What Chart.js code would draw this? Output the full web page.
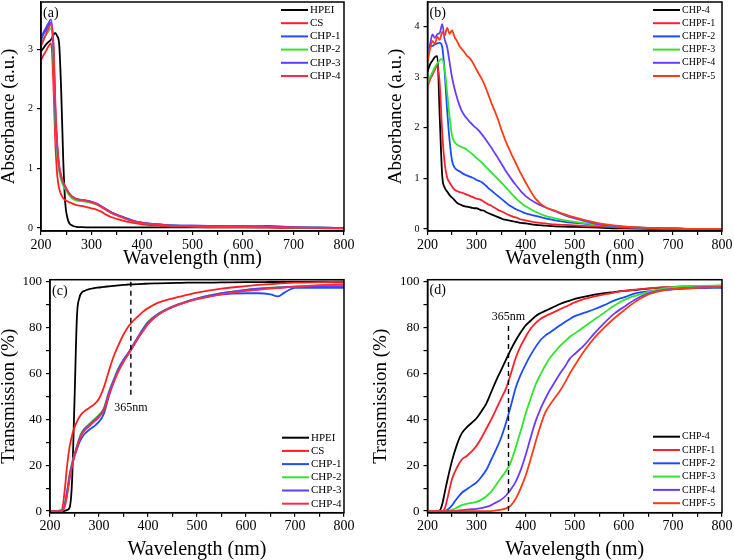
<!DOCTYPE html>
<html>
<head>
<meta charset="utf-8">
<title>UV-vis absorbance and transmission</title>
<script src="https://cdn.jsdelivr.net/npm/chart.js@4.4.1/dist/chart.umd.min.js"></script>
<style>
  body { margin: 0; background: #fff; }
  #wrap { position: relative; width: 734px; height: 560px; }
  canvas { position: absolute; }
</style>
</head>
<body>
<div id="wrap">
  <canvas id="chartA" width="367" height="275" style="left:0;top:0"></canvas>
  <canvas id="chartB" width="367" height="275" style="left:367px;top:0"></canvas>
  <canvas id="chartC" width="367" height="285" style="left:0;top:275px"></canvas>
  <canvas id="chartD" width="367" height="285" style="left:367px;top:275px"></canvas>
</div>
<script>
//-------------------------------------------------------------------
// data
//-------------------------------------------------------------------
const wavelengthTicks = [200, 250, 300, 350, 400, 450, 500, 550, 600, 650, 700, 750, 800];
const absTicksA = [0, 1, 2, 3];
const absTicksB = [0, 1, 2, 3, 4];
const transTicks = [0, 10, 20, 30, 40, 50, 60, 70, 80, 90, 100];

// (a) absorbance, films
const labelsA = ['HPEI', 'CS', 'CHP-1', 'CHP-2', 'CHP-3', 'CHP-4'];
const wlA = [200, 205, 210, 215, 220, 225, 228, 232, 236, 240, 244, 248, 252, 256, 260, 265, 270, 280, 290, 300,
             310, 320, 330, 340, 360, 380, 400, 450, 500, 550, 600, 650, 700, 750, 800];
const absHPEI = [2.96, 3.02, 3.08, 3.12, 3.16, 3.24, 3.27, 3.22, 3.08, 2.3, 1.15, 0.42, 0.18, 0.08, 0.05, 0.03, 0.02, 0.015, 0.012, 0.01,
                 0.01, 0.01, 0.01, 0.01, 0.01, 0.01, 0.01, 0.01, 0.01, 0.01, 0.01, 0.01, 0.005, 0.005, 0];
const absCS   = [2.82, 2.9, 2.97, 3.05, 3.1, 2.3, 1.5, 0.9, 0.66, 0.56, 0.5, 0.47, 0.45, 0.43, 0.42, 0.4, 0.385, 0.37, 0.35, 0.33,
                 0.31, 0.27, 0.22, 0.18, 0.13, 0.09, 0.06, 0.03, 0.02, 0.01, 0.01, 0.005, 0, 0, 0];
const absCHP1 = [3.15, 3.25, 3.32, 3.4, 3.45, 2.9, 2.0, 1.35, 1.0, 0.85, 0.75, 0.68, 0.62, 0.57, 0.53, 0.5, 0.48, 0.47, 0.46, 0.44,
                 0.41, 0.36, 0.31, 0.26, 0.19, 0.13, 0.09, 0.05, 0.04, 0.035, 0.03, 0.035, 0.015, 0.005, 0];
const absCHP2 = [3.1, 3.18, 3.24, 3.3, 3.35, 2.75, 1.85, 1.26, 0.95, 0.8, 0.71, 0.65, 0.6, 0.55, 0.51, 0.48, 0.46, 0.45, 0.44, 0.42,
                 0.39, 0.35, 0.3, 0.25, 0.18, 0.12, 0.085, 0.05, 0.035, 0.03, 0.025, 0.02, 0.01, 0.005, 0];
const absCHP3 = [3.18, 3.28, 3.36, 3.44, 3.5, 2.95, 2.05, 1.38, 1.02, 0.86, 0.76, 0.69, 0.63, 0.58, 0.54, 0.51, 0.49, 0.47, 0.46, 0.44,
                 0.41, 0.36, 0.31, 0.26, 0.19, 0.13, 0.09, 0.05, 0.04, 0.035, 0.03, 0.025, 0.015, 0.005, 0];
const absCHP4 = [3.05, 3.15, 3.25, 3.35, 3.42, 3.05, 2.2, 1.45, 1.05, 0.88, 0.77, 0.7, 0.63, 0.58, 0.54, 0.51, 0.49, 0.47, 0.455, 0.43,
                 0.4, 0.35, 0.3, 0.25, 0.18, 0.12, 0.085, 0.045, 0.03, 0.025, 0.02, 0.015, 0.01, 0, -0.01];

// (b) absorbance, fluorescent films
const labelsB = ['CHP-4', 'CHPF-1', 'CHPF-2', 'CHPF-3', 'CHPF-4', 'CHPF-5'];
const wlB = [200, 205, 210, 215, 220, 225, 230, 235, 240, 245, 250, 255, 260, 265, 270, 275, 280, 285, 290, 295,
             300, 305, 310, 315, 320, 325, 330, 335, 340, 345, 350, 355, 360, 365, 370, 375, 380, 385, 390, 395,
             400, 420, 440, 460, 480, 500, 550, 600, 650, 700, 750, 800];
const absB_CHP4 = [3.11, 3.25, 3.33, 3.4, 3.42, 2.2, 1.05, 0.82, 0.74, 0.67, 0.62, 0.57, 0.52, 0.49, 0.47, 0.45, 0.44, 0.43, 0.42, 0.41,
                   0.41, 0.39, 0.37, 0.36, 0.33, 0.31, 0.29, 0.27, 0.25, 0.23, 0.21, 0.19, 0.18, 0.17, 0.16, 0.15, 0.14, 0.13, 0.12, 0.115,
                   0.11, 0.08, 0.065, 0.05, 0.045, 0.04, 0.025, 0.01, 0.005, 0, 0, 0];
const absB_F1 = [2.81, 2.95, 3.05, 3.15, 3.24, 2.85, 1.9, 1.3, 1.02, 0.92, 0.84, 0.78, 0.75, 0.73, 0.72, 0.7, 0.68, 0.66, 0.64, 0.62,
                 0.6, 0.59, 0.57, 0.54, 0.51, 0.48, 0.46, 0.43, 0.4, 0.37, 0.35, 0.33, 0.3, 0.28, 0.26, 0.24, 0.23, 0.21, 0.19, 0.18,
                 0.17, 0.13, 0.11, 0.09, 0.08, 0.07, 0.045, 0.025, 0.01, 0.005, 0, 0];
const absB_F2 = [3.55, 3.6, 3.62, 3.65, 3.67, 3.68, 3.6, 3.1, 2.35, 1.75, 1.35, 1.22, 1.17, 1.14, 1.11, 1.08, 1.06, 1.04, 1.02, 1.0,
                 0.97, 0.95, 0.93, 0.89, 0.85, 0.8, 0.76, 0.72, 0.68, 0.64, 0.6, 0.56, 0.52, 0.48, 0.45, 0.42, 0.39, 0.37, 0.35, 0.33,
                 0.31, 0.26, 0.21, 0.17, 0.14, 0.12, 0.08, 0.04, 0.02, 0.01, 0, 0];
const absB_F3 = [2.88, 3.0, 3.1, 3.2, 3.28, 3.34, 3.36, 3.15, 2.7, 2.22, 1.85, 1.72, 1.67, 1.64, 1.62, 1.6, 1.57, 1.53, 1.49, 1.45,
                 1.4, 1.36, 1.32, 1.27, 1.22, 1.17, 1.12, 1.07, 1.02, 0.97, 0.92, 0.87, 0.82, 0.77, 0.71, 0.66, 0.61, 0.56, 0.52, 0.48,
                 0.45, 0.34, 0.26, 0.21, 0.17, 0.14, 0.08, 0.04, 0.02, 0.01, 0, 0];
const absB_F4 = [3.55, 3.65, 3.85, 3.78, 3.85, 3.88, 4.05, 3.75, 3.6, 3.3, 3.0, 2.78, 2.6, 2.45, 2.33, 2.25, 2.19, 2.13, 2.08, 2.03,
                 1.99, 1.94, 1.88, 1.82, 1.75, 1.68, 1.61, 1.53, 1.46, 1.38, 1.3, 1.22, 1.14, 1.07, 1.0, 0.93, 0.87, 0.81, 0.75, 0.7,
                 0.65, 0.52, 0.43, 0.35, 0.27, 0.21, 0.09, 0.04, 0.02, 0.01, 0, 0];
const absB_F5 = [3.3, 3.55, 3.72, 3.66, 3.8, 3.74, 3.9, 3.83, 3.98, 3.86, 3.93, 3.8, 3.72, 3.62, 3.56, 3.5, 3.43, 3.39, 3.33, 3.24,
                 3.15, 3.06, 2.98, 2.88, 2.76, 2.63, 2.5, 2.38, 2.26, 2.13, 1.98, 1.85, 1.72, 1.61, 1.5, 1.4, 1.3, 1.2, 1.1, 1.01,
                 0.92, 0.6, 0.43, 0.36, 0.29, 0.23, 0.11, 0.05, 0.02, 0.01, 0, 0];

// (c) transmission, films
const wlC = [200, 210, 220, 225, 230, 235, 240, 245, 250, 255, 260, 265, 270, 280, 290, 300, 310, 320, 330, 340,
             350, 360, 370, 380, 390, 400, 420, 440, 460, 480, 500, 550, 600, 625, 650, 665, 680, 700, 750, 800];
const trHPEI = [0, 0, 0, 0, 0.1, 0.5, 1.5, 13, 48, 85, 93, 95.3, 96, 96.8, 97.2, 97.5, 97.8, 98, 98.2, 98.4,
                98.6, 98.8, 98.9, 99, 99.1, 99.2, 99.3, 99.4, 99.5, 99.6, 99.6, 99.7, 99.8, 99.8, 99.9, 99.9, 99.9, 99.9, 100, 100];
const trCS   = [0, 0, 0.3, 1, 9, 20, 28, 33, 36.5, 39, 41, 42.5, 43.5, 45, 46.5, 49, 54, 61, 67.5, 72.5,
                77, 80.5, 83, 85, 87, 88.5, 90.8, 92.2, 93.3, 94.3, 95.3, 97, 98.1, 98.6, 99, 99.2, 99.4, 99.6, 99.8, 100];
const trCHP1 = [0, 0, 0, 0.2, 2.5, 8, 15, 20, 24, 27, 30, 32, 33.5, 35.5, 37, 39, 42.5, 50, 56.5, 62,
                65.5, 68.5, 72, 75.5, 79, 82, 85.5, 88, 89.8, 91.3, 92.5, 94.5, 95, 95, 94.5, 93.6, 95.5, 97.3, 97.4, 97.3];
const trCHP2 = [0, 0, 0, 0.3, 3, 9, 16, 21, 25, 28.5, 32, 34.5, 36, 38, 40, 42, 45, 52, 57.5, 62.5,
                66, 69, 72.5, 76, 79.5, 82.5, 86, 88.3, 90, 91.5, 92.8, 95, 96.5, 97, 97.4, 97.6, 97.8, 98, 98.3, 98.5];
const trCHP3 = [0, 0, 0, 0.2, 2.5, 8.5, 15.5, 20.5, 24.5, 28, 31.5, 34, 35.5, 37.5, 39.5, 41.5, 44.5, 51.5, 57, 62,
                66, 69, 72.5, 76, 79.5, 82.3, 85.8, 88.2, 90, 91.5, 92.7, 95, 96.5, 97, 97.3, 97.5, 97.7, 97.9, 98, 98];
const trCHP4 = [0, 0, 0, 0.1, 2, 7, 14, 19.5, 24, 27.5, 31, 33.5, 35, 37, 39, 41, 44, 50.5, 56, 61,
                65, 68.5, 72, 75.5, 78.5, 81.5, 85.5, 88, 89.8, 91.2, 92.4, 94.5, 96, 96.5, 97, 97.2, 97.5, 97.8, 98.5, 99];

// (d) transmission, fluorescent films
const wlD = [200, 210, 220, 225, 230, 235, 240, 250, 260, 270, 280, 290, 300, 310, 320, 330, 340, 350, 360, 370,
             380, 390, 400, 410, 420, 430, 440, 450, 460, 470, 480, 490, 500, 520, 540, 560, 580, 600, 625, 650,
             675, 700, 750, 800];
const trD_CHP4 = [0, 0, 0, 0.3, 3, 8, 13, 22, 29, 34, 36.5, 38.5, 40.5, 43.5, 47, 52, 57, 61.5, 66, 70.5,
                  74.5, 78, 81, 83, 85, 86.3, 87.3, 88.3, 89.3, 90.3, 91.1, 91.8, 92.5, 93.5, 94.4, 95, 95.5, 96, 96.5, 97,
                  97.4, 97.7, 98, 98.2];
const trD_F1 = [0, 0, 0, 0, 0, 1, 5, 14, 19, 22.5, 24, 26, 28.5, 32, 36, 40, 44.5, 49, 53.5, 60,
                67, 72, 76, 79.5, 82, 83.8, 85, 86, 87, 88, 89, 90, 91, 92.5, 93.6, 94.5, 95.3, 96, 96.6, 97.1,
                97.5, 97.8, 98.1, 98.3];
const trD_F2 = [0, 0, 0, 0, 0, 0, 0.5, 2.5, 5.5, 8, 9.5, 11, 12.5, 15, 18, 22.5, 27, 32, 38.5, 46,
                54, 59.5, 64, 68, 71.5, 74.5, 76.5, 78, 79.5, 81, 82.5, 83.8, 85, 86.5, 88, 89.8, 91.8, 93.2, 95, 95.8,
                96.3, 96.7, 97.2, 97.4];
const trD_F3 = [0, 0, 0, 0, 0, 0, 0, 0.5, 1.5, 2.6, 3.2, 3.6, 4, 5, 6.5, 8.5, 11.5, 14.5, 17.5, 21.5,
                28, 35, 42.5, 49, 55, 59.5, 63.5, 67, 69.5, 72, 74, 76, 77.5, 80.5, 83.5, 86.5, 89.5, 92, 94, 95.6,
                96.8, 97.6, 98.2, 98.4];
const trD_F4 = [0, 0, 0, 0, 0, 0, 0, 0, 0.2, 0.4, 0.6, 0.8, 1, 1.3, 1.8, 2.6, 3.8, 5, 6.8, 9.5,
                13, 18, 24.5, 32, 39, 44.5, 49, 53, 56.5, 60, 63, 66.5, 68.5, 72.5, 77.5, 82, 86, 89, 92.5, 94.9,
                96.2, 96.8, 97.5, 97.8];
const trD_F5 = [0, 0, 0, 0, 0, 0, 0, 0, 0, 0, 0, 0, 0, 0, 0, 0, 0.3, 0.6, 1.2, 2.5,
                5.5, 10, 15.5, 22.5, 30, 37, 43, 46.5, 49.5, 52.5, 56, 60, 63.5, 70, 75.5, 80, 84, 87.5, 91.5, 94.5,
                96, 96.8, 97.4, 97.8];

//-------------------------------------------------------------------
// styling
//-------------------------------------------------------------------
const SERIF = "'Liberation Serif', 'Times New Roman', serif";
const colorsA = ['#000000', '#ff1f1f', '#1f4cff', '#2de62d', '#5c3cff', '#ff2a4a'];
const colorsB = ['#000000', '#ff1f2a', '#1a4cff', '#2de62d', '#6a3cff', '#ff3a12'];

function toPoints(xs, ys) {
  return xs.map((x, i) => ({ x: x, y: ys[i] }));
}

function makeDatasets(xs, labels, colors, seriesList) {
  return seriesList.map((ys, i) => ({
    label: labels[i],
    data: toPoints(xs, ys),
    borderColor: colors[i],
    borderWidth: 1.8,
    pointRadius: 0,
    fill: false,
    cubicInterpolationMode: 'monotone',
    order: seriesList.length - i
  }));
}

// frame, panel letter, legend and the 365 nm marker
const panelDecor = {
  id: 'panelDecor',
  afterDatasetsDraw(chart, args, opts) {
    const ctx = chart.ctx;
    const a = chart.chartArea;
    ctx.save();

    ctx.strokeStyle = '#000';
    ctx.lineWidth = 1.5;
    ctx.strokeRect(a.left, a.top, a.right - a.left, a.bottom - a.top);

    ctx.fillStyle = '#000';
    ctx.textAlign = 'left';
    ctx.textBaseline = 'middle';
    ctx.font = '14px ' + SERIF;
    ctx.fillText(opts.letter, a.left + 2, a.top + opts.letterDy);

    if (opts.marker) {
      const m = opts.marker;
      const xs = chart.scales.x, ys = chart.scales.y;
      const px = xs.getPixelForValue(m.at);
      ctx.setLineDash([5, 4]);
      ctx.lineWidth = 1.4;
      ctx.beginPath();
      ctx.moveTo(px, ys.getPixelForValue(m.from));
      ctx.lineTo(px, ys.getPixelForValue(m.to));
      ctx.stroke();
      ctx.setLineDash([]);
      ctx.textAlign = 'center';
      ctx.font = '12px ' + SERIF;
      ctx.fillText(m.text, px, ys.getPixelForValue(m.labelAt));
    }

    const lg = opts.legend;
    const x2 = a.right - lg.right;
    const x1 = x2 - 27;
    ctx.textAlign = 'left';
    ctx.font = lg.size + 'px ' + SERIF;
    chart.data.datasets.forEach((ds, i) => {
      const y = a.top + lg.top + i * lg.dy;
      ctx.strokeStyle = ds.borderColor;
      ctx.lineWidth = 2;
      ctx.beginPath();
      ctx.moveTo(x1, y);
      ctx.lineTo(x2, y);
      ctx.stroke();
      ctx.fillStyle = '#000';
      ctx.fillText(ds.label, x2 + 2, y);
    });

    ctx.restore();
  }
};

function makeChart(id, cfg) {
  const ctx = document.getElementById(id).getContext('2d');
  return new Chart(ctx, {
    type: 'line',
    data: { datasets: cfg.datasets },
    options: {
      responsive: false,
      animation: false,
      devicePixelRatio: 1,
      layout: { autoPadding: false, padding: cfg.pad },
      scales: {
        x: {
          type: 'linear',
          min: 200,
          max: 800,
          afterBuildTicks: (s) => { s.ticks = wavelengthTicks.map(v => ({ value: v })); },
          afterFit: (s) => {
            s.height = cfg.xHeight;
            s.paddingLeft = 0;
            s.paddingRight = 0;
          },
          ticks: {
            color: '#000',
            padding: cfg.xTickPad,
            maxRotation: 0,
            autoSkip: false,
            font: { family: SERIF, size: 14 },
            callback: (v) => (v % 100 === 0 ? v : '')
          },
          grid: { drawOnChartArea: false, drawTicks: true, tickLength: 4, color: '#000', lineWidth: 1.2 },
          border: { color: '#000', width: 1.5 },
          title: { display: true, text: 'Wavelength (nm)', color: '#000', padding: 0,
                   font: { family: SERIF, size: 20, lineHeight: 1 } }
        },
        y: {
          type: 'linear',
          min: cfg.yMin,
          max: cfg.yMax,
          afterBuildTicks: (s) => { s.ticks = cfg.yTicks.map(v => ({ value: v })); },
          afterFit: (s) => {
            s.width = cfg.yWidth;
            s.paddingTop = 0;
            s.paddingBottom = 0;
          },
          ticks: {
            color: '#000',
            padding: 4,
            autoSkip: false,
            font: { family: SERIF, size: cfg.yTickSize },
            callback: cfg.yLabel
          },
          grid: { drawOnChartArea: false, drawTicks: true, tickLength: 4, color: '#000', lineWidth: 1.2 },
          border: { color: '#000', width: 1.5 },
          title: { display: true, text: cfg.yTitle, color: '#000', padding: 0,
                   font: { family: SERIF, size: 19, lineHeight: 1 } }
        }
      },
      plugins: {
        legend: { display: false },
        tooltip: { enabled: false },
        panelDecor: cfg.decor
      }
    },
    plugins: [panelDecor]
  });
}

//-------------------------------------------------------------------
// the four panels
//-------------------------------------------------------------------
makeChart('chartA', {
  datasets: makeDatasets(wlA, labelsA, colorsA, [absHPEI, absCS, absCHP1, absCHP2, absCHP3, absCHP4]),
  pad: { left: 0, right: 23, top: 2, bottom: 6 },
  xHeight: 38, xTickPad: 2, yWidth: 41,
  yMin: -0.05, yMax: 3.79, yTicks: absTicksA, yTickSize: 10,
  yLabel: (v) => v, yTitle: 'Absorbance (a.u.)',
  decor: { letter: '(a)', letterDy: 11, legend: { right: 36, top: 8, dy: 13.2, size: 11 } }
});

makeChart('chartB', {
  datasets: makeDatasets(wlB, labelsB, colorsB, [absB_CHP4, absB_F1, absB_F2, absB_F3, absB_F4, absB_F5]),
  pad: { left: 20, right: 12, top: 2, bottom: 6 },
  xHeight: 38, xTickPad: 2, yWidth: 40.5,
  yMin: -0.04, yMax: 4.49, yTicks: absTicksB, yTickSize: 10,
  yLabel: (v) => v, yTitle: 'Absorbance (a.u.)',
  decor: { letter: '(b)', letterDy: 11, legend: { right: 42, top: 8, dy: 13.2, size: 10 } }
});

makeChart('chartC', {
  datasets: makeDatasets(wlC, labelsA, colorsA, [trHPEI, trCS, trCHP1, trCHP2, trCHP3, trCHP4]),
  pad: { left: 0, right: 23, top: 4.7, bottom: 0 },
  xHeight: 47.3, xTickPad: 1, yWidth: 50,
  yMin: -0.7, yMax: 100.9, yTicks: transTicks, yTickSize: 13,
  yLabel: (v) => (v % 20 === 0 ? v : ''), yTitle: 'Transmission (%)',
  decor: { letter: '(c)', letterDy: 12, legend: { right: 35, top: 158, dy: 13.2, size: 11 },
           marker: { at: 365, from: 100, to: 50, labelAt: 45, text: '365nm' } }
});

makeChart('chartD', {
  datasets: makeDatasets(wlD, labelsB, colorsB, [trD_CHP4, trD_F1, trD_F2, trD_F3, trD_F4, trD_F5]),
  pad: { left: 5, right: 12, top: 4.7, bottom: 0 },
  xHeight: 47.3, xTickPad: 1, yWidth: 55.5,
  yMin: -0.7, yMax: 100.9, yTicks: transTicks, yTickSize: 13,
  yLabel: (v) => (v % 20 === 0 ? v : ''), yTitle: 'Transmission (%)',
  decor: { letter: '(d)', letterDy: 11, legend: { right: 42, top: 157, dy: 13.3, size: 10 },
           marker: { at: 365, from: 0, to: 81, labelAt: 84.5, text: '365nm' } }
});
</script>
</body>
</html>
